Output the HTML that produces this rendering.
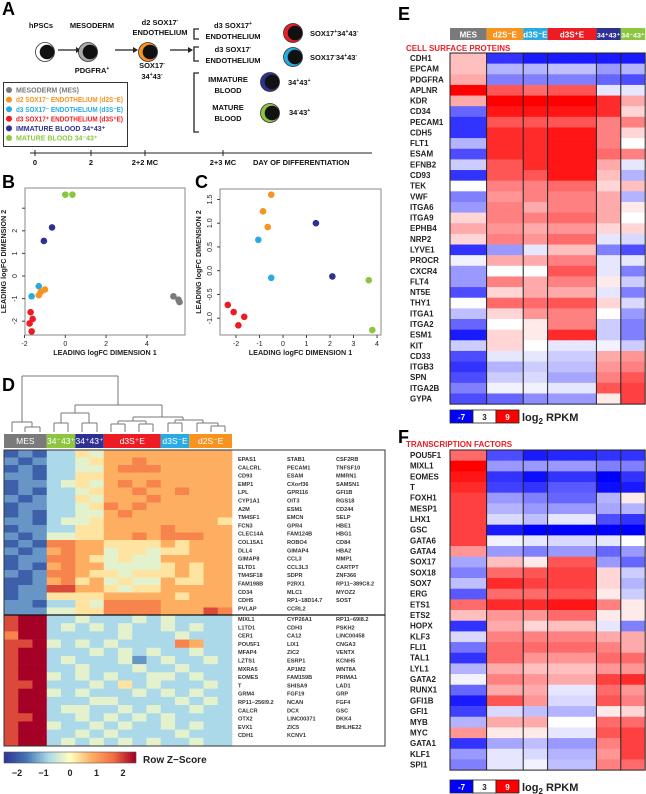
<!DOCTYPE html>
<html><head><meta charset="utf-8"><style>
html,body{margin:0;padding:0;background:#fff;}
svg{display:block;font-family:"Liberation Sans",Arial,sans-serif;font-weight:bold;}
</style></head><body>
<svg id="fig" width="646" height="794" viewBox="0 0 646 794" xmlns="http://www.w3.org/2000/svg">
<g>
<text x="2" y="15" font-size="18">A</text>
<g font-size="7.5" text-anchor="middle" fill="#111">
<text x="41" y="28">hPSCs</text>
<text x="92" y="28">MESODERM</text>
<text x="160" y="25">d2 SOX17<tspan font-size="5" dy="-3">-</tspan></text>
<text x="160" y="35">ENDOTHELIUM</text>
<text x="92" y="73">PDGFRA<tspan font-size="5" dy="-3">+</tspan></text>
<text x="152" y="68">SOX17<tspan font-size="5" dy="-3">-</tspan></text>
<text x="152" y="79">34<tspan font-size="5" dy="-3">+</tspan><tspan dy="3">43</tspan><tspan font-size="5" dy="-3">-</tspan></text>
<text x="233" y="28">d3 SOX17<tspan font-size="5" dy="-3">+</tspan></text>
<text x="233" y="39">ENDOTHELIUM</text>
<text x="233" y="52">d3 SOX17<tspan font-size="5" dy="-3">-</tspan></text>
<text x="233" y="63">ENDOTHELIUM</text>
<text x="228" y="82">IMMATURE</text>
<text x="228" y="93">BLOOD</text>
<text x="228" y="110">MATURE</text>
<text x="228" y="121">BLOOD</text>
</g>
<g font-size="7.5" fill="#111">
<text x="310" y="36">SOX17<tspan font-size="5" dy="-3">+</tspan><tspan dy="3">34</tspan><tspan font-size="5" dy="-3">+</tspan><tspan dy="3">43</tspan><tspan font-size="5" dy="-3">-</tspan></text>
<text x="310" y="60">SOX17<tspan font-size="5" dy="-3">-</tspan><tspan dy="3">34</tspan><tspan font-size="5" dy="-3">+</tspan><tspan dy="3">43</tspan><tspan font-size="5" dy="-3">-</tspan></text>
<text x="288" y="85">34<tspan font-size="5" dy="-3">+</tspan><tspan dy="3">43</tspan><tspan font-size="5" dy="-3">+</tspan></text>
<text x="289" y="115">34<tspan font-size="5" dy="-3">-</tspan><tspan dy="3">43</tspan><tspan font-size="5" dy="-3">+</tspan></text>
</g>
<g stroke="#222" stroke-width="1.3" fill="none">
<path d="M58 50H76M115 50H133M170 50H188"/>
<path d="M199 29H194V39H199M199 47H194V61H199M199 73H194V132H199"/>
</g>
<path d="M76 47L81 50L76 53ZM133 47L138 50L133 53ZM188 47L193 50L188 53Z" fill="#222"/>
<g id="cells"></g>
<rect x="3.5" y="82.5" width="124" height="64" fill="#fff" stroke="#333" stroke-width="1"/>
<g font-size="7" id="legendA"></g>
<path d="M30 153H372" stroke="#222" stroke-width="1"/>
<g id="timeline" font-size="7.5" fill="#111"></g>
</g>
<text x="2" y="188" font-size="18">B</text>
<text x="195" y="188" font-size="18">C</text>
<g id="plotB"></g>
<g id="plotC"></g>
<text x="2" y="391" font-size="18">D</text>
<g id="panelD"></g>
<text x="398" y="20" font-size="18">E</text>
<text x="398" y="443" font-size="18">F</text>
<g id="panelE"></g>
<g id="panelF"></g>
</svg>
<script>
const NS="http://www.w3.org/2000/svg";
function mk(tag,attrs,parent){const e=document.createElementNS(NS,tag);for(const k in attrs)e.setAttribute(k,attrs[k]);parent.appendChild(e);return e;}
const C={mes:"#7a7a7a",d2:"#f7931e",d3m:"#29abe2",d3p:"#ed1c24",imm:"#2e3192",mat:"#8cc63f"};

const cellsG=document.getElementById('cells');
const cellSpecs=[["hpsc-cell",45,52,"#fff"],["mesoderm-cell",88,52,"#aaa"],["d2-cell",148,52,C.d2],["d3-sox17p-cell",293,33,C.d3p],["d3-sox17m-cell",293,57,C.d3m],["immature-cell",270,82,C.imm],["mature-cell",270,113,C.mat]];
cellSpecs.forEach(s=>{
 const g=mk('g',{},cellsG);
 
 
 mk('circle',{cx:s[1],cy:s[2],r:9.5,fill:s[3],stroke:"#333","stroke-width":0.8},g);
 mk('circle',{cx:s[1]+2,cy:s[2],r:7.3,fill:"#111"},g);
});
const legA=document.getElementById('legendA');
const legItems=[["MESODERM (MES)",C.mes,0],["d2 SOX17\u207B ENDOTHELIUM (d2S\u207BE)",C.d2,1],["d3 SOX17\u207B ENDOTHELIUM (d3S\u207BE)",C.d3m,1],["d3 SOX17\u207A ENDOTHELIUM (d3S\u207AE)",C.d3p,1],["IMMATURE BLOOD 34\u207A43\u207A",C.imm,0],["MATURE BLOOD 34\u207B43\u207A",C.mat,0]];
legItems.forEach((it,i)=>{
 const y=90+i*9.6;
 const d=mk('circle',{cx:9,cy:y,r:3,fill:it[1]},legA);
 
 
 const at={x:16,y:y+2.6,fill:it[1]};
 if(it[2]){at.textLength=107;at.lengthAdjust="spacingAndGlyphs";}
 const t=mk('text',at,legA);
 t.textContent=it[0];
 
 
});
const tl=document.getElementById('timeline');
[[35,"0"],[91,"2"],[145,"2+2 MC"],[223,"2+3 MC"]].forEach(t=>{
 mk('line',{x1:t[0],x2:t[0],y1:150,y2:156,stroke:"#222"},tl);
 const e=mk('text',{x:t[0],y:165,"text-anchor":"middle"},tl);e.textContent=t[1];
 
 
});
{const e=mk('text',{x:253,y:165},tl);e.textContent="DAY OF DIFFERENTIATION";

}

const groupsB=["mat","mat","imm","imm","d3m","d3m","d2","d2","d2","d3p","d3p","d3p","d3p","mes","mes","mes"];
const xB=[0.0,0.35,-0.65,-1.05,-1.3,-1.65,-1.0,-1.2,-1.3,-1.7,-1.6,-1.75,-1.65,5.3,5.55,5.6];
const yB=[3.6,3.6,2.15,1.55,-0.45,-0.9,-0.6,-0.7,-0.85,-1.6,-1.9,-2.1,-2.45,-0.9,-1.05,-1.15];
const xTicksB=[-2,0,2,4];
const yTicksB=[-2,-1,0,1,2];
const groupsC=["d2","d2","d2","d3m","d3m","imm","imm","mat","mat","d3p","d3p","d3p","d3p"];
const xC=[-0.5,-0.85,-0.65,-1.05,-0.5,1.4,2.1,3.65,3.8,-2.35,-2.1,-1.65,-1.9];
const yC=[1.6,1.25,0.92,0.65,-0.15,1.0,-0.12,-0.2,-1.25,-0.72,-0.87,-0.97,-1.15];
const xTicksC=[-2,-1,0,1,2,3,4];
const yTicksC=[-1.0,-0.5,0.0,0.5,1.0,1.5];
const yTickLabelsC=["-1.0","-0.5","0.0","0.5","1.0","1.5"];

function scatter(gid,box,xs,ys,groups,xt,yt,ytl,extraYTicks,ylab){
 const g=document.getElementById(gid);
 const sx=v=>box.x0+(v-box.xa)*box.kx, sy=v=>box.y0-(v-box.ya)*box.ky;
 const fr=mk('rect',{x:box.l,y:box.t,width:box.r-box.l,height:box.b-box.t,fill:"none",stroke:"#888","stroke-width":1},g);
 
 
 xt.forEach(v=>{mk('line',{x1:sx(v),x2:sx(v),y1:box.b,y2:box.b+3,stroke:"#444"},g);
  const t=mk('text',{x:sx(v),y:box.b+11,"font-size":7,"text-anchor":"middle","font-weight":"normal",fill:"#222"},g);t.textContent=v;
  
  });
 yt.concat(extraYTicks).forEach(v=>mk('line',{x1:box.l-3,x2:box.l,y1:sy(v),y2:sy(v),stroke:"#444"},g));
 yt.forEach((v,i)=>{const tx=box.l-8;const t=mk('text',{x:tx,y:sy(v),"font-size":7,"text-anchor":"middle","font-weight":"normal",fill:"#222",transform:`rotate(-90 ${tx} ${sy(v)})`},g);t.textContent=ytl[i];
  
  });
 const xl=mk('text',{x:(box.l+box.r)/2,y:box.b+20,"font-size":7.2,"text-anchor":"middle",fill:"#222"},g);xl.textContent="LEADING logFC DIMENSION 1";
 
 
 const yy=(box.t+box.b)/2;
 const yl=mk('text',{x:ylab,y:yy,"font-size":7.2,"text-anchor":"middle",fill:"#222",transform:`rotate(-90 ${ylab} ${yy})`},g);yl.textContent="LEADING logFC DIMENSION 2";
 
 
 xs.forEach((v,i)=>{const p=mk('circle',{cx:sx(v),cy:sy(ys[i]),r:3.3,fill:C[groups[i]]},g);
  
  });
}
scatter('plotB',{l:25,r:185,t:188,b:335,x0:24.5,xa:-2,kx:20.4,y0:276,ya:0,ky:22.6},xB,yB,groupsB,xTicksB,yTicksB,yTicksB.map(String),[3],6);
scatter('plotC',{l:220,r:381,t:189,b:335,x0:236,xa:-2,kx:23.5,y0:270.7,ya:0,ky:47.5},xC,yC,groupsC,xTicksC,yTicksC,yTickLabelsC,[],201);

const dGroups=["MES","34\u207B43\u207A","34\u207A43\u207A","d3S\u207AE","d3S\u207BE","d2S\u207BE"];
const dGroupCols=[3,2,2,4,2,3];
const dGroupColors=[C.mes,C.mat,C.imm,C.d3p,C.d3m,C.d2];
const dTop=["1213354666666666","2123345667666666","1213344677766666","2213355666666666","1223454676766666","1213345667667666","2123354666766666","1223345767666666","1213344676666666","2213445666666665","1223355666676666","2124455667677766","1217766555565666","2126766455455666","1227765454466666","1216766444456566","2127765545556566","1126756454465566","1228866545566666","1225555666665666","2213354777766666","2224455777766687"];
const dBottom=["8993343334343333","8993434343343433","7993333343334333","8894343433337633","8993334343433433","8993433342343343","8993343334334333","8994343433443433","8893334353433343","8994343334343433","8993334433334343","8993443343433433","8893343434343333","8994334343343433","8993343433334333","8993434343433433"];
const zStops=[[-2.4,[49,54,149]],[-1.6,[69,117,180]],[-0.8,[171,217,233]],[0,[255,255,191]],[0.8,[253,174,97]],[1.6,[244,109,67]],[2.4,[165,0,38]]];
function zColor(z){z=Math.max(-2.4,Math.min(2.4,z));for(let i=0;i<zStops.length-1;i++){const a=zStops[i],b=zStops[i+1];if(z<=b[0]){const t=(z-a[0])/(b[0]-a[0]);return `rgb(${a[1].map((c,j)=>Math.round(c+(b[1][j]-c)*t)).join(',')})`;}}return 'rgb(165,0,38)';}
const genesTop=[["EPAS1","CALCRL","CD93","EMP1","LPL","CYP1A1","A2M","TM4SF1","FCN3","CLEC14A","COL15A1","DLL4","GIMAP8","ELTD1","TM4SF18","FAM198B","CD34","CDH5","PVLAP"],["STAB1","PECAM1","ESAM","CXorf36","GPR116","OIT3","ESM1","EMCN","GPR4","FAM124B","ROBO4","GIMAP4","CCL3","CCL3L3","SDPR","P2RX1","MLC1","RP1\u221218D14.7","CCRL2"],["CSF2RB","TNFSF10","MMRN1","SAMSN1","GFI1B","RGS18","CD244","SELP","HBE1","HBG1","CD84","HBA2","MMP1","CARTPT","ZNF366","RP11\u2212389C8.2","MYOZ2","SOST"]];
const genesBottom=[["MIXL1","L1TD1","CER1","POU5F1","MFAP4","LZTS1","MXRA5","EOMES","T","GRM4","RP11\u2212256I9.2","CALCR","OTX2","EVX1","CDH1"],["CYP26A1","CDH3","CA12","LIX1","ZIC2","ESRP1","AP1M2","FAM159B","SHISA9","FGF19","NCAN","DCX","LINC00371","ZIC5","KCNV1"],["RP11\u221269I8.2","PSKH2","LINC00458","CNGA3","VENTX","KCNH5","WNT8A","PRIMA1","LAD1","GRP","FGF4","GSC","DKK4","BHLHE22"]];
const zTicks=[-2,-1,0,1,2];
(function(){
 const g=document.getElementById('panelD');
 const x0=4,cw=14.25;
 const segs=[[22,376,118,376],[22,376,22,422],[118,376,118,405],
  [12,422,32,422],[12,422,12,432],[32,422,32,427],[25,427,40,427],[25,427,25,432],[40,427,40,432],
  [75,405,162,405],[75,405,75,413],[61,413,89,413],[61,413,61,423],[89,413,89,423],
  [54,423,68,423],[54,423,54,432],[68,423,68,432],[82,423,97,423],[82,423,82,432],[97,423,97,432],
  [162,405,162,417],[133,417,183,417],[133,417,133,421],[118,421,146,421],[118,421,118,424],[146,421,146,424],
  [111,424,125,424],[111,424,111,432],[125,424,125,432],[139,424,153,424],[139,424,139,432],[153,424,153,432],
  [183,417,183,420],[175,420,203,420],[175,420,175,423],[168,423,182,423],[168,423,168,432],[182,423,182,432],
  [203,420,203,423],[197,423,218,423],[197,423,197,432],[218,423,218,426],[211,426,225,426],[211,426,211,432],[225,426,225,432]];
 const dp=mk('path',{d:segs.map(s=>`M${s[0]} ${s[1]}H${s[2]}V${s[3]}`).join(''),stroke:"#777","stroke-width":1,fill:"none"},g);
 
 
 let c=0;
 dGroups.forEach((nm,i)=>{
  const x=x0+c*cw,w=dGroupCols[i]*cw;
  const r=mk('rect',{x:x,y:434,width:w,height:14,fill:dGroupColors[i]},g);
  
  
  const t=mk('text',{x:x+w/2,y:444,"font-size":8.5,"font-weight":"normal",fill:"#fff","text-anchor":"middle"},g);t.textContent=nm;
  
  
  c+=dGroupCols[i];
 });
 const drawBlock=(rows,y0,h)=>{const rh=h/rows.length;rows.forEach((r,ri)=>{for(let j=0;j<16;j++){const z=-2.4+(+r[j])*4.8/9;
  const cell=mk('rect',{x:x0+j*cw,y:y0+ri*rh,width:cw+0.3,height:rh+0.3,fill:zColor(z)},g);
  
  }});};
 drawBlock(dTop,450,165);
 drawBlock(dBottom,615,131);
 const fr=mk('rect',{x:4,y:450,width:381,height:296,fill:"none",stroke:"#333","stroke-width":1},g);
 
 
 mk('line',{x1:4,x2:385,y1:615,y2:615,stroke:"#111","stroke-width":1.2},g);
 const colX=[238,287,336];
 const lab=(cols,y0)=>cols.forEach((col,ci)=>col.forEach((gn,ri)=>{const t=mk('text',{x:colX[ci],y:y0+ri*8.3,"font-size":5.6,fill:"#333"},g);t.textContent=gn;
  
  }));
 lab(genesTop,461);lab(genesBottom,621);
 for(let i=0;i<66;i++){mk('rect',{x:4+i*2,y:752,width:2.1,height:11,fill:zColor(-2.4+i*4.8/65)},g);}
 const cb=mk('rect',{x:4,y:752,width:132,height:11,fill:"none",stroke:"#555","stroke-width":0.6},g);
 
 
 zTicks.forEach(v=>{const t=mk('text',{x:70+v*26.5,y:776,"font-size":9,"text-anchor":"middle",fill:"#222"},g);t.textContent=v<0?"\u2212"+(-v):v;
  
  });
 const tt=mk('text',{x:143,y:763,"font-size":10,fill:"#222"},g);tt.textContent="Row Z\u2212Score";
 
 
})();

const eGroups=["MES","d2S\u207BE","d3S\u207BE","d3S\u207AE","34\u207A43\u207A","34\u207B43\u207A"];
const eGroupCols=[3,3,2,4,2,2];
const eGroupColors=[C.mes,C.d2,C.d3m,C.d3p,C.imm,C.mat];
const eGenes=["CDH1","EPCAM","PDGFRA","APLNR","KDR","CD34","PECAM1","CDH5","FLT1","ESAM","EFNB2","CD93","TEK","VWF","ITGA6","ITGA9","EPHB4","NRP2","LYVE1","PROCR","CXCR4","FLT4","NT5E","THY1","ITGA1","ITGA2","ESM1","KIT","CD33","ITGB3","SPN","ITGA2B","GYPA"];
const eValues=[[4.5,-5,-6,-6,-6,-6],[4.5,0,0,0.5,-1,0],[5,-2,-2,-2,-3,-4],[9,7,6.5,7,2,2],[5,9,9,9,8,5],[-3,8.5,8.5,8.5,8,4],[-5,7,7,7,6,6],[-5,8,8,8.5,6,4],[0,8,8,8.5,6,3],[-4,8,8,8.5,6.5,6],[1,7,8,8.5,5,2],[-5,7,7,8.5,4.5,0],[3,6,6,6.5,4,4.5],[-2,5.5,6,6,5,0],[-1,6,5,6,5,3.5],[4,6,6,6.5,5,3],[5,5.5,5,5.5,4,4],[4,6,5.5,6.5,2,1.5],[-5,-1,2,4.5,-2,-4],[2.5,5,5,6,2,2],[-1,3,3,7,2,-2],[-1,6,5,6,3.5,1],[-4,4,5,5,2,-2],[3,6.5,6.5,7,4,1.5],[0.5,4,5.5,6,3,-1],[-3,3,3.5,6,1,-2],[-6,4,3.5,8,1,-2],[1,4,3,2,2.5,1],[-4,2,2,1,5,5.5],[-5,0,1,0.5,5.5,6],[-4,1,1.5,-0.5,6,7],[-2,2.5,2.5,2,7,7.5],[-4,-3,-1.5,-1,3.5,7.5]];
const fGenes=["POU5F1","MIXL1","EOMES","T","FOXH1","MESP1","LHX1","GSC","GATA6","GATA4","SOX17","SOX18","SOX7","ERG","ETS1","ETS2","HOPX","KLF3","FLI1","TAL1","LYL1","GATA2","RUNX1","GFI1B","GFI1","MYB","MYC","GATA1","KLF1","SPI1"];
const fValues=[[6.5,-4,-6,-5.5,-5,-5],[9,-1,-1,-1,-2,-2],[8.5,-5,-6.5,-5,-7,-5],[8,-4.5,-5,-3.5,-6.5,-6],[7.5,-1,-2,-3,0,3.5],[7.5,0,-1,-1,-0.5,0],[7.5,1.5,0.5,2,-4,-5],[7.5,-6,-7,-7,-7,-7],[7.5,2.5,2,1.5,2,3],[5.5,-1,-2,-1,-3,-1],[-0.5,4.5,3.5,7,-1,-3],[-2,6.5,7,7.5,4,1],[0.5,8,7.5,7.5,4,0],[-3.5,6.5,6.5,7,3.5,1],[6.5,8,8,8.5,6,3.5],[4.5,5.5,5.5,6.5,3.5,3.5],[-5,5,4,4.5,2,-2],[1.5,6,6,6,5,5],[-2.5,6.5,6.5,6.5,6,5],[-5,6.5,5.5,5.5,6.5,6.5],[0,5,4.5,4.5,5.5,5.5],[2.5,6,5.5,5,7.5,8],[-3,5,5,2,6.5,5.5],[-6,7,5.5,1.5,7,6],[-4.5,1.5,0.5,0,3.5,4],[0,5,5,3,6.5,6.5],[5.5,3.5,3.5,2,7,7.5],[-5,-0.5,0.5,-1,6,7.5],[-1,2,1.5,0,5.5,7.5],[-2,2,2.5,0.5,6,6.5]];
const rpkmTicks=[-7,3,9];
function rColor(v){v=Math.max(-7,Math.min(9,v));if(v<3){const t=(v+7)/10;const c=Math.round(255*t);return `rgb(${c},${c},255)`;}const t=(v-3)/6;const c=Math.round(255*(1-t));return `rgb(255,${c},${c})`;}
function rpkmHeat(gid,genes,vals,y0,rh,title,titleY,header,cbY){
 const g=document.getElementById(gid);
 const x0=450,cw=12.2;
 if(header){let c=0;eGroups.forEach((nm,i)=>{const x=x0+c*cw,w=eGroupCols[i]*cw;
  const r=mk('rect',{x:x,y:28,width:w,height:12,fill:eGroupColors[i]},g);
  
  
  const at={x:x+w/2,y:37.5,"font-size":i>3?6.5:8,fill:"#fff","text-anchor":"middle"};
  if(i>3){at.textLength=w-1;at.lengthAdjust="spacingAndGlyphs";}
  const t=mk('text',at,g);t.textContent=nm;
  
  
  c+=eGroupCols[i];});}
 const tt=mk('text',{x:406,y:titleY,"font-size":8,fill:"#ed1c24"},g);tt.textContent=title;
 
 
 vals.forEach((row,ri)=>{
  let c=0;
  row.forEach((v,gi)=>{for(let k=0;k<eGroupCols[gi];k++){
   const cell=mk('rect',{x:x0+(c+k)*cw,y:y0+ri*rh,width:cw+0.3,height:rh+0.3,fill:rColor(v)},g);
   
   }
   c+=eGroupCols[gi];});
  const t=mk('text',{x:410,y:y0+ri*rh+rh*0.75,"font-size":8,fill:"#222"},g);t.textContent=genes[ri];
  
  
 });
 const H=rh*vals.length;
 const fr=mk('rect',{x:x0,y:y0,width:195.2,height:H,fill:"none",stroke:"#222","stroke-width":1},g);
 
 
 let c=0;eGroupCols.slice(0,5).forEach(n=>{c+=n;mk('line',{x1:x0+c*cw,x2:x0+c*cw,y1:y0,y2:y0+H,stroke:"#222","stroke-width":1},g);});
 rpkmTicks.forEach((v,i)=>{const x=450+i*23;mk('rect',{x:x,y:cbY,width:23,height:13,fill:rColor(v),stroke:"#222","stroke-width":0.8},g);
  const t=mk('text',{x:x+11.5,y:cbY+10,"font-size":8,fill:v==3?"#222":"#fff","text-anchor":"middle"},g);t.textContent=v;
  
  });
 const lt=mk('text',{x:522,y:cbY+11,"font-size":11,fill:"#222"},g);
 lt.innerHTML='log<tspan font-size="8" dy="3">2</tspan><tspan dy="-3"> RPKM</tspan>';
 
 
}
rpkmHeat('panelE',eGenes,eValues,53,10.64,"CELL SURFACE PROTEINS",51,true,410);
rpkmHeat('panelF',fGenes,fValues,450,10.67,"TRANSCRIPTION FACTORS",447,false,780);
</script>
</body></html>
